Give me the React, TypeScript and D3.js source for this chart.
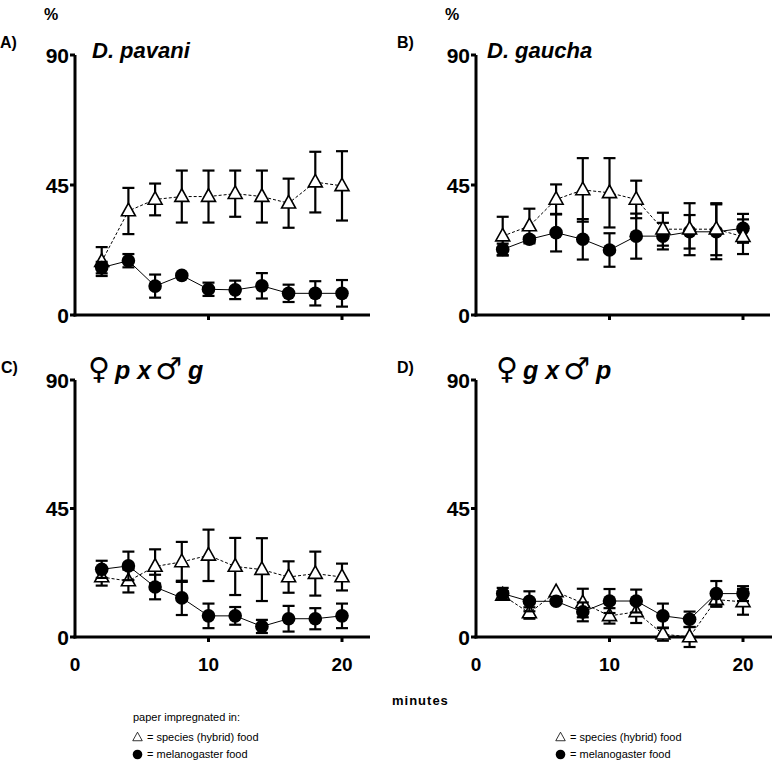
import React from "react";
import * as d3 from "d3";

// ---------- data ----------
const minutes = [2, 4, 6, 8, 10, 12, 14, 16, 18, 20];
const xTicks = [0, 10, 20];
const yTicks = [0, 45, 90];

const panelLetters = ["A)", "B)", "C)", "D)"];

const aTri = [18.5, 36, 40, 41, 41, 42, 41, 38.7, 46, 44.7];
const aTriErr = [5, 8, 5.5, 9, 9, 8, 9, 8.5, 10.5, 12];
const aCirc = [16.4, 18.8, 10, 13.7, 8.9, 8.7, 10.1, 7.5, 7.5, 7.5];
const aCircErr = [2, 2.3, 4, 0, 2.3, 3.2, 4.4, 3, 4.2, 4.6];

const bTri = [27.3, 30.8, 40, 43.3, 42.3, 40, 29.7, 29.7, 29.7, 27.1];
const bTriErr = [6.7, 6, 5.2, 11, 12, 6.5, 5.7, 9, 9, 6];
const bCirc = [22.7, 26.2, 28.5, 26.2, 22.5, 27.3, 27.3, 28.8, 28.8, 30];
const bCircErr = [2, 1, 6.5, 7, 5.8, 7.8, 4.6, 5.8, 9.5, 5];

const cTri = [21, 19.6, 24.7, 26.3, 28.6, 24.7, 23.6, 21, 22.2, 21];
const cTriErr = [3, 4, 6, 7, 9, 10, 11, 5.5, 7.7, 4.7];
const cCirc = [23.7, 24.9, 17.5, 13.7, 7.4, 7.4, 3.7, 6.4, 6.4, 7.4];
const cCircErr = [3, 5, 4.3, 6, 4.3, 3.1, 2.3, 4.5, 3.7, 4.3];

const dTri = [14.6, 8.4, 15.8, 11.9, 7.4, 8.8, 1, 0, 13.1, 12.3];
const dTriErr = [1.5, 2, 0, 5, 2.7, 3.9, 2.3, 3.5, 2.5, 4.5];
const dCirc = [15.2, 12.5, 12.5, 8.8, 12.6, 12.6, 7.4, 6.2, 15.2, 15.2];
const dCircErr = [2, 3.5, 0, 3.3, 4.2, 4, 4.3, 2.7, 4.4, 2.6];

const xLabel = "minutes";
const legendHeader = "paper impregnated in:";
const legendTri = "= species (hybrid) food";
const legendCirc = "= melanogaster food";

// ---------- layout ----------
const FONT = "'Liberation Sans', Arial, Helvetica, sans-serif";

type PanelDef = {
  letter: string;
  tri: number[];
  triErr: number[];
  circ: number[];
  circErr: number[];
  x0: number;
  x20: number;
  xEnd: number;
  yBottom: number;
  yTop: number;
  letterPos: [number, number];
  percent: boolean;
  title: "pavani" | "gaucha" | "pg" | "gp";
  titleX: number;
  titleY: number;
  xLabels: boolean;
  circOnTop: boolean;
};

const panels: PanelDef[] = [
  { letter: panelLetters[0], tri: aTri, triErr: aTriErr, circ: aCirc, circErr: aCircErr,
    x0: 75, x20: 342, xEnd: 370, yBottom: 315, yTop: 55, letterPos: [0, 48], percent: true,
    title: "pavani", titleX: 92, titleY: 58, xLabels: false, circOnTop: true },
  { letter: panelLetters[1], tri: bTri, triErr: bTriErr, circ: bCirc, circErr: bCircErr,
    x0: 476, x20: 743, xEnd: 770, yBottom: 315, yTop: 55, letterPos: [397, 48], percent: true,
    title: "gaucha", titleX: 487, titleY: 58, xLabels: false, circOnTop: false },
  { letter: panelLetters[2], tri: cTri, triErr: cTriErr, circ: cCirc, circErr: cCircErr,
    x0: 75, x20: 342, xEnd: 370, yBottom: 637, yTop: 380, letterPos: [1, 373], percent: false,
    title: "pg", titleX: 88, titleY: 379, xLabels: true, circOnTop: true },
  { letter: panelLetters[3], tri: dTri, triErr: dTriErr, circ: dCirc, circErr: dCircErr,
    x0: 476, x20: 743, xEnd: 772, yBottom: 637, yTop: 380, letterPos: [397, 373], percent: false,
    title: "gp", titleX: 496, titleY: 379, xLabels: true, circOnTop: true },
];

const triPath = (cx: number, cy: number, s: number) => {
  const h = s * 0.9;
  return `M${cx},${cy - h * 0.62} L${cx + s / 2},${cy + h * 0.38} L${cx - s / 2},${cy + h * 0.38} Z`;
};

function Title({ p }: { p: PanelDef }) {
  const bi = { fontWeight: 700, fontStyle: "italic" as const };
  const sym = { fontFamily: "'DejaVu Sans', sans-serif", fontWeight: 400, fontStyle: "normal" as const, fontSize: 30 };
  if (p.title === "pavani" || p.title === "gaucha") {
    return (
      <text x={p.titleX} y={p.titleY} fontFamily={FONT} fontSize={22} {...bi}>
        {p.title === "pavani" ? "D. pavani" : "D. gaucha"}
      </text>
    );
  }
  const a = p.title === "pg" ? "p" : "g";
  const b = p.title === "pg" ? "g" : "p";
  return (
    <text x={p.titleX} y={p.titleY} fontFamily={FONT} fontSize={25}>
      <tspan {...sym}>♀</tspan>
      <tspan {...bi} dx={5}>{a}</tspan>
      <tspan {...bi} dx={7}>x</tspan>
      <tspan {...sym} dx={4}>♂</tspan>
      <tspan {...bi} dx={6}>{b}</tspan>
    </text>
  );
}

function Panel({ p }: { p: PanelDef }) {
  const x = d3.scaleLinear().domain([0, 20]).range([p.x0, p.x20]);
  const y = d3.scaleLinear().domain([0, 90]).range([p.yBottom, p.yTop]);
  const triPts = minutes.map((m, i) => [m, p.tri[i]] as [number, number]);
  const circPts = minutes.map((m, i) => [m, p.circ[i]] as [number, number]);
  const line = d3.line<[number, number]>().x((d) => x(d[0])).y((d) => y(d[1]));
  const cap = 6;

  const errBars = (vals: number[], errs: number[], key: string) =>
    minutes.map((m, i) => {
      const e = errs[i];
      if (!e) return null;
      const cx = x(m);
      const yt = y(vals[i] + e);
      const yb = y(vals[i] - e);
      return (
        <g key={key + i} stroke="#000" strokeWidth={2.2}>
          <line x1={cx} x2={cx} y1={yt} y2={yb} />
          <line x1={cx - cap} x2={cx + cap} y1={yt} y2={yt} />
          <line x1={cx - cap} x2={cx + cap} y1={yb} y2={yb} />
        </g>
      );
    });

  const triGroup = (
    <g key="tri">
      {errBars(p.tri, p.triErr, "te")}
      <path d={line(triPts) || ""} fill="none" stroke="#000" strokeWidth={1} strokeDasharray="3,2" />
      {minutes.map((m, i) => (
        <path key={"t" + i} d={triPath(x(m), y(p.tri[i]), 14)} fill="#fff" stroke="#000" strokeWidth={1.6} strokeLinejoin="miter" />
      ))}
    </g>
  );
  const circGroup = (
    <g key="circ">
      {errBars(p.circ, p.circErr, "ce")}
      <path d={line(circPts) || ""} fill="none" stroke="#000" strokeWidth={1} />
      {minutes.map((m, i) => (
        <circle key={"c" + i} cx={x(m)} cy={y(p.circ[i])} r={6.8} fill="#000" />
      ))}
    </g>
  );

  return (
    <g>
      <line x1={x(0)} x2={x(0)} y1={y(0) + 1.5} y2={y(90)} stroke="#000" strokeWidth={3} />
      <line x1={x(0) - 1.5} x2={p.xEnd} y1={y(0)} y2={y(0)} stroke="#000" strokeWidth={3} />
      {yTicks.map((t) => (
        <g key={"yt" + t}>
          <line x1={x(0) - 5} x2={x(0)} y1={y(t)} y2={y(t)} stroke="#000" strokeWidth={3} />
          <text x={x(0) - 6} y={y(t)} dy="0.36em" textAnchor="end" fontFamily={FONT} fontWeight={700} fontSize={21}>
            {t}
          </text>
        </g>
      ))}
      {xTicks.filter((t) => t > 0).map((t) => (
        <line key={"xt" + t} x1={x(t)} x2={x(t)} y1={y(0)} y2={y(0) + 5} stroke="#000" strokeWidth={3} />
      ))}
      {p.xLabels &&
        xTicks.map((t) => (
          <text key={"xl" + t} x={x(t)} y={y(0) + 34} textAnchor="middle" fontFamily={FONT} fontWeight={700} fontSize={19}>
            {t}
          </text>
        ))}
      {p.circOnTop ? [triGroup, circGroup] : [circGroup, triGroup]}
      <text x={p.letterPos[0]} y={p.letterPos[1]} fontFamily={FONT} fontWeight={700} fontSize={16}>
        {p.letter}
      </text>
      {p.percent && (
        <text x={x(0) - 31} y={20} fontFamily={FONT} fontWeight={700} fontSize={16}>
          %
        </text>
      )}
      <Title p={p} />
    </g>
  );
}

function Legend({ x0, header }: { x0: number; header: boolean }) {
  return (
    <g fontFamily={FONT} fontSize={11}>
      {header && (
        <text x={x0} y={721}>
          {legendHeader}
        </text>
      )}
      <path d={triPath(x0 + 4.5, 737.5, 9.5)} fill="#fff" stroke="#000" strokeWidth={0.8} />
      <text x={x0 + 14} y={741}>
        {legendTri}
      </text>
      <circle cx={x0 + 4.5} cy={754.5} r={4.8} fill="#000" />
      <text x={x0 + 14} y={758}>
        {legendCirc}
      </text>
    </g>
  );
}

export default function App() {
  return (
    <svg width={773} height={762} style={{ position: "absolute", left: 0, top: 0, background: "#fff" }}>
      <rect x={0} y={0} width={773} height={762} fill="#fff" />
      {panels.map((p) => (
        <Panel key={p.letter} p={p} />
      ))}
      <text x={392} y={705} fontFamily={FONT} fontWeight={700} fontSize={13} letterSpacing={1}>
        {xLabel}
      </text>
      <Legend x0={133} header={true} />
      <Legend x0={556} header={false} />
    </svg>
  );
}
